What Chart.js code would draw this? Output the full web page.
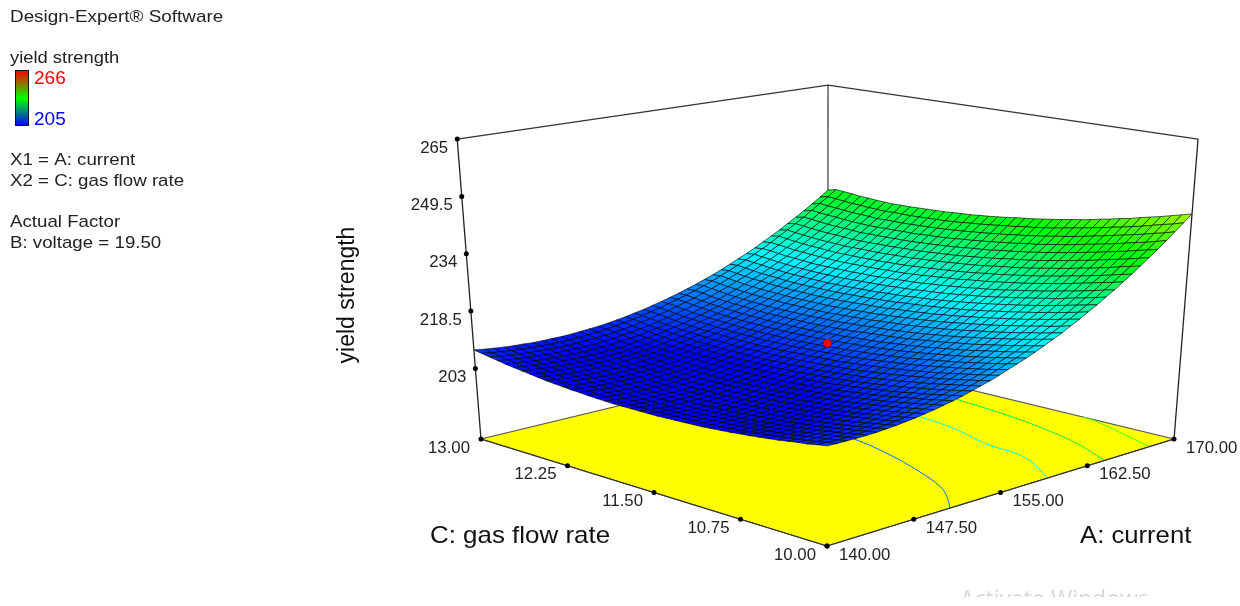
<!DOCTYPE html>
<html>
<head>
<meta charset="utf-8">
<title>yield strength</title>
<script src="https://cdn.jsdelivr.net/npm/chart.js@4"></script>
<style>
  html, body { margin: 0; padding: 0; background: #fff; }
  canvas { display: block; }
</style>
</head>
<body>
<canvas id="surfaceChart" width="1240" height="606"></canvas>
<script>
// values
const currentTicks = [140, 147.5, 155, 162.5, 170];
const gasTicks = [10, 10.75, 11.5, 12.25, 13];
const strengthTicks = [203, 218.5, 234, 249.5, 265];
const currentTickLabels = ['140.00', '147.50', '155.00', '162.50', '170.00'];
const gasTickLabels = ['10.00', '10.75', '11.50', '12.25', '13.00'];
const strengthTickLabels = ['203', '218.5', '234', '249.5', '265'];

const currentNodes = [140, 140.75, 141.5, 142.25, 143, 143.75, 144.5, 145.25, 146, 146.75, 147.5, 148.25, 149, 149.75, 150.5, 151.25, 152, 152.75, 153.5, 154.25, 155, 155.75, 156.5, 157.25, 158, 158.75, 159.5, 160.25, 161, 161.75, 162.5, 163.25, 164, 164.75, 165.5, 166.25, 167, 167.75, 168.5, 169.25, 170];
const gasNodes = [10, 10.075, 10.15, 10.225, 10.3, 10.375, 10.45, 10.525, 10.6, 10.675, 10.75, 10.825, 10.9, 10.975, 11.05, 11.125, 11.2, 11.275, 11.35, 11.425, 11.5, 11.575, 11.65, 11.725, 11.8, 11.875, 11.95, 12.025, 12.1, 12.175, 12.25, 12.325, 12.4, 12.475, 12.55, 12.625, 12.7, 12.775, 12.85, 12.925, 13];
// one row per gas flow rate, one column per current
const yieldGrid = [
  [208.3,208.2,208.2,208.2,208.2,208.3,208.5,208.7,209.0,209.3,209.7,210.1,210.6,211.1,211.7,212.4,213.1,213.8,214.6,215.5,216.4,217.3,218.3,219.4,220.5,221.6,222.9,224.1,225.5,226.8,228.3,229.7,231.3,232.8,234.5,236.2,237.9,239.7,241.6,243.5,245.4],
  [207.9,207.8,207.7,207.7,207.8,207.9,208.0,208.2,208.5,208.8,209.2,209.6,210.1,210.6,211.2,211.8,212.5,213.2,214.0,214.9,215.8,216.7,217.7,218.7,219.9,221.0,222.2,223.5,224.8,226.2,227.6,229.1,230.6,232.2,233.8,235.5,237.2,239.0,240.8,242.7,244.7],
  [207.4,207.3,207.3,207.3,207.3,207.4,207.6,207.8,208.0,208.3,208.7,209.1,209.6,210.1,210.7,211.3,212.0,212.7,213.5,214.3,215.2,216.2,217.1,218.2,219.3,220.4,221.6,222.9,224.2,225.6,227.0,228.4,230.0,231.5,233.2,234.8,236.6,238.3,240.2,242.1,244.0],
  [207.1,206.9,206.9,206.9,206.9,207.0,207.1,207.3,207.6,207.9,208.2,208.6,209.1,209.6,210.2,210.8,211.5,212.2,213.0,213.8,214.7,215.6,216.6,217.6,218.7,219.9,221.1,222.3,223.6,225.0,226.4,227.8,229.4,230.9,232.5,234.2,235.9,237.7,239.5,241.4,243.3],
  [206.7,206.5,206.5,206.5,206.5,206.6,206.7,206.9,207.2,207.5,207.8,208.2,208.7,209.2,209.7,210.3,211.0,211.7,212.5,213.3,214.2,215.1,216.1,217.1,218.2,219.3,220.5,221.8,223.1,224.4,225.8,227.2,228.8,230.3,231.9,233.6,235.3,237.1,238.9,240.7,242.7],
  [206.3,206.2,206.1,206.1,206.1,206.2,206.3,206.5,206.8,207.0,207.4,207.8,208.2,208.7,209.3,209.9,210.5,211.2,212.0,212.8,213.7,214.6,215.6,216.6,217.7,218.8,220.0,221.2,222.5,223.8,225.1,226.7,228.2,229.7,231.3,233.0,234.7,236.4,238.3,240.1,242.1],
  [206.0,205.9,205.8,205.7,205.8,205.8,206.0,206.1,206.4,206.6,207.0,207.4,207.8,208.3,208.8,209.4,210.1,210.8,211.5,212.4,213.2,214.1,215.1,216.1,217.2,218.3,219.5,220.7,222.0,223.3,224.7,226.1,227.6,229.2,230.8,232.4,234.1,235.9,237.7,239.5,241.4],
  [205.7,205.5,205.5,205.4,205.4,205.5,205.6,205.8,206.0,206.3,206.6,207.0,207.4,207.9,208.4,209.0,209.7,210.4,211.1,211.9,212.8,213.7,214.6,215.6,216.7,217.8,219.0,220.2,221.5,222.8,224.2,225.6,227.1,228.6,230.2,231.9,233.6,235.3,237.1,239.0,240.9],
  [205.4,205.3,205.2,205.1,205.1,205.2,205.3,205.5,205.7,205.9,206.3,206.6,207.1,207.5,208.1,208.6,209.3,210.0,210.7,211.5,212.4,213.3,214.2,215.2,216.3,217.4,218.5,219.8,221.0,222.3,223.7,225.1,226.6,228.1,229.7,231.3,233.0,234.8,236.6,238.4,240.3],
  [205.2,205.0,204.9,204.9,204.8,204.9,205.0,205.2,205.4,205.6,205.9,206.3,206.7,207.2,207.7,208.3,208.9,209.6,210.3,211.1,212.0,212.9,213.8,214.8,215.8,217.0,218.1,219.3,220.6,221.9,223.2,224.6,226.1,227.6,229.2,230.8,232.5,234.2,236.0,237.9,239.8],
  [204.9,204.7,204.7,204.6,204.6,204.6,204.7,204.9,205.1,205.3,205.6,206.0,206.4,206.9,207.4,207.9,208.6,209.2,210.0,210.7,211.6,212.5,213.4,214.4,215.4,216.5,217.7,218.9,220.1,221.4,222.8,224.2,225.6,227.1,228.7,230.3,232.0,233.7,235.5,237.4,239.2],
  [204.7,204.5,204.5,204.4,204.3,204.4,204.5,204.6,204.8,205.0,205.3,205.7,206.1,206.5,207.1,207.6,208.2,208.9,209.6,210.4,211.2,212.1,213.0,214.0,215.0,216.1,217.3,218.5,219.7,221.0,222.3,223.7,225.2,226.7,228.2,229.8,231.5,233.2,235.0,236.9,238.7],
  [204.5,204.3,204.2,204.1,204.1,204.2,204.2,204.4,204.5,204.8,205.1,205.4,205.8,206.2,206.8,207.3,207.9,208.6,209.3,210.1,210.9,211.8,212.7,213.7,214.7,215.7,216.9,218.1,219.3,220.6,221.9,223.3,224.8,226.3,227.8,229.4,231.1,232.8,234.6,236.4,238.3],
  [204.3,204.1,204.1,204.0,203.9,204.0,204.0,204.2,204.3,204.6,204.8,205.1,205.5,206.0,206.5,207.0,207.7,208.3,209.0,209.8,210.6,211.4,212.3,213.3,214.3,215.4,216.5,217.7,218.9,220.2,221.5,222.9,224.4,225.9,227.4,229.0,230.6,232.3,234.1,235.9,237.8],
  [204.2,204.0,203.9,203.8,203.7,203.8,203.9,204.0,204.1,204.3,204.6,204.9,205.3,205.7,206.2,206.8,207.4,208.0,208.7,209.5,210.3,211.2,212.1,213.0,214.0,215.1,216.2,217.4,218.6,219.9,221.2,222.6,224.0,225.5,227.1,228.7,230.3,232.0,233.7,235.5,237.4],
  [204.1,203.8,203.7,203.6,203.6,203.6,203.6,203.8,203.9,204.2,204.4,204.7,205.1,205.5,206.0,206.6,207.1,207.8,208.5,209.2,210.0,210.9,211.8,212.7,213.7,214.8,215.9,217.0,218.3,219.5,220.8,222.2,223.7,225.2,226.7,228.3,229.9,231.6,233.3,235.1,237.0],
  [204.0,203.8,203.6,203.5,203.4,203.5,203.5,203.7,203.8,204.0,204.3,204.5,204.9,205.3,205.8,206.4,206.9,207.6,208.3,209.0,209.8,210.6,211.5,212.5,213.5,214.5,215.6,216.8,218.0,219.2,220.5,221.9,223.4,224.8,226.3,227.9,229.6,231.2,233.0,234.8,236.6],
  [203.9,203.7,203.5,203.4,203.3,203.4,203.4,203.5,203.6,203.8,204.1,204.4,204.7,205.2,205.6,206.2,206.7,207.4,208.0,208.8,209.6,210.4,211.3,212.3,213.2,214.3,215.4,216.5,217.7,218.9,220.2,221.6,223.0,224.5,226.0,227.6,229.2,230.9,232.6,234.4,236.3],
  [203.8,203.6,203.4,203.3,203.2,203.2,203.3,203.4,203.5,203.7,204.0,204.3,204.6,205.0,205.5,206.0,206.6,207.2,207.9,208.7,209.4,210.3,211.1,212.1,213.0,214.1,215.1,216.3,217.5,218.7,220.0,221.3,222.8,224.2,225.7,227.3,228.9,230.6,232.3,234.1,236.0],
  [203.8,203.5,203.4,203.2,203.1,203.1,203.2,203.3,203.4,203.6,203.9,204.2,204.5,204.9,205.4,205.9,206.5,207.1,207.8,208.5,209.3,210.1,211.0,211.9,212.9,213.9,214.9,216.1,217.3,218.5,219.8,221.1,222.5,224.0,225.5,227.0,228.7,230.3,232.0,233.8,235.6],
  [203.8,203.5,203.3,203.2,203.1,203.1,203.1,203.2,203.3,203.5,203.8,204.1,204.4,204.8,205.2,205.8,206.3,206.9,207.6,208.3,209.0,209.9,210.7,211.6,212.6,213.6,214.7,215.8,217.0,218.2,219.5,220.8,222.3,223.7,225.2,226.7,228.4,230.0,231.7,233.5,235.3],
  [203.8,203.5,203.3,203.2,203.1,203.1,203.1,203.2,203.3,203.5,203.7,204.0,204.3,204.7,205.1,205.6,206.2,206.8,207.5,208.2,208.9,209.7,210.6,211.5,212.5,213.5,214.5,215.6,216.8,218.0,219.3,220.6,222.0,223.5,225.0,226.5,228.1,229.8,231.5,233.2,235.0],
  [203.8,203.5,203.3,203.1,203.1,203.1,203.1,203.1,203.2,203.4,203.7,204.0,204.3,204.6,205.1,205.6,206.1,206.7,207.4,208.1,208.8,209.6,210.4,211.3,212.3,213.3,214.4,215.5,216.7,217.9,219.2,220.5,221.8,223.3,224.8,226.3,227.9,229.5,231.2,233.0,234.8],
  [203.8,203.5,203.3,203.1,203.1,203.1,203.0,203.1,203.2,203.4,203.6,203.9,204.2,204.6,205.0,205.5,206.0,206.6,207.3,207.9,208.7,209.5,210.3,211.2,212.1,213.2,214.2,215.4,216.5,217.7,219.0,220.3,221.6,223.1,224.6,226.1,227.7,229.3,231.0,232.7,234.5],
  [203.9,203.6,203.4,203.2,203.2,203.1,203.1,203.2,203.3,203.4,203.6,203.9,204.2,204.6,205.0,205.5,206.0,206.6,207.2,207.9,208.6,209.4,210.2,211.1,212.1,213.1,214.1,215.2,216.4,217.6,218.9,220.2,221.5,222.9,224.4,225.9,227.5,229.1,230.8,232.5,234.4],
  [204.0,203.7,203.5,203.3,203.2,203.2,203.2,203.2,203.3,203.5,203.7,203.9,204.2,204.6,205.0,205.5,206.0,206.6,207.2,207.9,208.6,209.4,210.2,211.0,212.0,212.9,214.0,215.1,216.3,217.5,218.8,220.0,221.4,222.8,224.3,225.8,227.4,229.0,230.6,232.3,234.2],
  [204.1,203.8,203.6,203.4,203.3,203.3,203.2,203.3,203.4,203.5,203.7,204.0,204.2,204.6,205.0,205.5,206.0,206.5,207.1,207.8,208.6,209.3,210.1,211.0,211.9,212.9,213.9,215.0,216.2,217.4,218.7,219.9,221.3,222.7,224.2,225.7,227.2,228.8,230.5,232.2,234.0],
  [204.3,204.0,203.8,203.6,203.5,203.4,203.4,203.4,203.5,203.6,203.8,204.1,204.3,204.7,205.1,205.5,206.0,206.6,207.2,207.8,208.6,209.3,210.1,211.0,211.9,212.9,213.9,215.0,216.1,217.3,218.6,219.9,221.2,222.6,224.1,225.6,227.1,228.7,230.4,232.1,233.9],
  [204.4,204.1,203.9,203.7,203.6,203.6,203.5,203.5,203.6,203.7,203.9,204.1,204.4,204.8,205.1,205.6,206.1,206.6,207.2,207.9,208.6,209.3,210.1,211.0,211.9,212.9,213.9,214.9,216.1,217.3,218.5,219.8,221.2,222.6,224.0,225.5,227.1,228.7,230.3,232.0,233.8],
  [204.6,204.3,204.1,203.9,203.7,203.7,203.6,203.6,203.7,203.8,204.0,204.2,204.5,204.8,205.2,205.7,206.1,206.7,207.3,207.9,208.6,209.4,210.1,211.0,211.9,212.9,213.9,214.9,216.1,217.2,218.5,219.8,221.1,222.5,224.0,225.5,227.0,228.6,230.2,231.9,233.7],
  [204.8,204.5,204.3,204.1,203.9,203.8,203.8,203.8,203.8,203.9,204.1,204.3,204.6,204.9,205.3,205.8,206.2,206.8,207.4,208.0,208.7,209.4,210.2,211.0,211.9,212.9,213.9,215.0,216.1,217.3,218.5,219.8,221.1,222.5,224.0,225.4,227.0,228.6,230.2,231.9,233.6],
  [205.0,204.7,204.5,204.3,204.1,204.0,204.0,204.0,204.0,204.1,204.3,204.5,204.7,205.1,205.4,205.9,206.3,206.9,207.5,208.1,208.8,209.5,210.3,211.1,212.0,213.0,214.0,215.0,216.1,217.3,218.5,219.8,221.1,222.5,224.0,225.4,227.0,228.5,230.2,231.9,233.6],
  [205.3,205.0,204.7,204.5,204.3,204.2,204.2,204.2,204.2,204.3,204.5,204.7,204.9,205.2,205.6,206.0,206.5,207.0,207.6,208.2,208.9,209.6,210.4,211.3,212.1,213.1,214.1,215.1,216.2,217.4,218.6,219.8,221.2,222.5,223.9,225.4,226.9,228.5,230.1,231.8,233.5],
  [205.6,205.2,205.0,204.8,204.6,204.5,204.4,204.4,204.4,204.5,204.6,204.8,205.1,205.4,205.8,206.2,206.7,207.2,207.7,208.4,209.1,209.8,210.5,211.4,212.2,213.2,214.2,215.2,216.3,217.5,218.7,219.9,221.3,222.6,224.1,225.6,227.1,228.6,230.3,231.9,233.6],
  [205.9,205.5,205.3,205.0,204.8,204.7,204.6,204.6,204.6,204.7,204.8,205.0,205.3,205.6,206.0,206.4,206.9,207.3,207.9,208.6,209.2,209.9,210.7,211.5,212.4,213.3,214.3,215.4,216.5,217.6,218.8,220.1,221.4,222.8,224.2,225.7,227.2,228.7,230.4,232.0,233.7],
  [206.2,205.9,205.6,205.3,205.1,205.0,204.9,204.8,204.8,204.9,205.0,205.2,205.5,205.8,206.2,206.6,207.1,207.6,208.1,208.8,209.4,210.2,210.9,211.7,212.6,213.5,214.5,215.6,216.7,217.8,219.0,220.3,221.6,222.9,224.3,225.8,227.3,228.9,230.5,232.2,233.9],
  [206.5,206.2,205.9,205.6,205.4,205.3,205.2,205.2,205.2,205.2,205.3,205.5,205.8,206.1,206.4,206.9,207.3,207.8,208.4,209.0,209.6,210.4,211.1,211.9,212.8,213.7,214.7,215.7,216.8,218.0,219.2,220.4,221.7,223.1,224.5,226.0,227.5,229.1,230.7,232.3,234.0],
  [206.9,206.5,206.2,206.0,205.8,205.6,205.5,205.5,205.5,205.5,205.6,205.8,206.0,206.4,206.7,207.1,207.5,208.1,208.7,209.3,209.9,210.7,211.4,212.2,213.1,214.0,215.0,216.0,217.1,218.3,219.5,220.7,222.0,223.3,224.7,226.2,227.7,229.3,230.9,232.5,234.3],
  [207.3,206.9,206.6,206.3,206.1,206.0,205.9,205.8,205.8,205.9,206.0,206.2,206.4,206.7,207.0,207.4,207.9,208.4,209.0,209.6,210.3,211.0,211.7,212.6,213.4,214.3,215.3,216.3,217.4,218.5,219.7,221.0,222.3,223.6,225.0,226.5,228.0,229.5,231.1,232.8,234.5],
  [207.7,207.3,207.0,206.7,206.5,206.4,206.2,206.2,206.2,206.2,206.3,206.5,206.8,207.0,207.4,207.8,208.2,208.7,209.3,209.9,210.6,211.3,212.0,212.8,213.7,214.6,215.6,216.6,217.7,218.8,220.0,221.2,222.5,223.9,225.3,226.7,228.2,229.8,231.4,233.0,234.7],
  [208.1,207.7,207.4,207.1,206.9,206.8,206.6,206.6,206.6,206.6,206.7,206.9,207.1,207.3,207.6,208.0,208.4,208.9,209.4,210.0,210.6,211.3,212.0,212.8,213.6,214.5,215.4,216.4,217.5,218.6,219.7,220.9,222.2,223.5,224.8,226.3,227.7,229.2,230.8,232.4,234.1]
];
const designPoint = { current: 155, gas: 11.5, strength: 210 };

const contourLevels = [211.5, 221, 230.5, 240];
const contourCurrent = [
  [149.75, 151.24, 152.42, 153.83, 155.27, 156.14, 156.5],
  [158.15, 160.4, 161.06, 162.26, 162.8, 163.2],
  [163.34, 165.04, 166.19, 166.97, 167.6, 168],
  [167.6, 169.76, 170]
];
const contourGas = [
  [10, 10.16, 10.32, 10.62, 11.02, 11.38, 11.8],
  [10, 10.36, 10.74, 11.12, 11.46, 11.8],
  [10, 10.36, 10.73, 11.1, 11.58, 11.9],
  [10, 10.59, 10.72]
];

const colourStops = ['#0000ff', '#00ffff', '#00ff00', '#ffff00', '#ff0000'];
const legendMin = 205;
const legendMax = 266;
const floorValue = 182.4;
const tickFloorValue = 183.9;
const FONT = '"Liberation Sans", Arial, sans-serif';

// perspective box: A and C run along the floor, strength goes up
function project(current, gas, strength) {
  const u = (current - 140) / 30;
  const v = (gas - 10) / 3;
  const t = (strength - floorValue) / (265 - floorValue);
  const w = 1 + 0.14 * (u + v) - 0.0735 * t;
  return {
    x: (827 + 511.4 * u - 278.7 * v - 60.7 * t) / w,
    y: (546 - 45.5 * (u + v) - 352.2 * t) / w
  };
}

function mix(a, b, f) {
  return { x: a.x + (b.x - a.x) * f, y: a.y + (b.y - a.y) * f };
}

function colourFor(value) {
  const pos = Math.max(0, Math.min(0.9999, (value - legendMin) / (legendMax - legendMin))) * 4;
  const k = Math.floor(pos);
  const f = pos - k;
  const hex = c => [1, 3, 5].map(n => parseInt(c.substr(n, 2), 16));
  const a = hex(colourStops[k]);
  const b = hex(colourStops[k + 1]);
  return `rgb(${a.map((c, n) => Math.round(c + (b[n] - c) * f)).join(',')})`;
}

const near = project(140, 10, floorValue);
const left = project(140, 13, floorValue);
const right = project(170, 10, floorValue);
const back = project(170, 13, floorValue);
const leftTop = project(140, 13, 265);
const rightTop = project(170, 10, 265);
const backTop = project(170, 13, 265);

// axis ticks are evenly spaced on screen between the box corners
const strengthPoints = strengthTicks.map(z => mix(left, leftTop, (z - tickFloorValue) / (265 - tickFloorValue)));
const gasPoints = gasTicks.map(c => mix(near, left, (c - 10) / 3));
const currentPoints = currentTicks.map(a => mix(near, right, (a - 140) / 30));

function line(points, color, width) {
  return { data: points, showLine: true, borderColor: color, borderWidth: width, pointRadius: 0, tension: 0 };
}

const painted = [];
painted.push({ ...line([near, right, back, left, near], '#555', 1.2), fill: 'shape', backgroundColor: '#ffff00' });
contourLevels.forEach((level, n) => {
  const pts = contourCurrent[n].map((a, k) => project(a, contourGas[n][k], floorValue));
  painted.push({ ...line(pts, colourFor(level), 1), tension: 0.4 });
});
painted.push(line([back, backTop], '#333', 1.2));
painted.push(line([leftTop, backTop, rightTop], '#333', 1.2));

// far cells first so the near ones cover them
for (let r = gasNodes.length - 2; r >= 0; r--) {
  for (let c = currentNodes.length - 2; c >= 0; c--) {
    const corners = [[r, c], [r, c + 1], [r + 1, c + 1], [r + 1, c], [r, c]];
    const pts = corners.map(([i, j]) => project(currentNodes[j], gasNodes[i], yieldGrid[i][j]));
    const mean = (yieldGrid[r][c] + yieldGrid[r][c + 1] + yieldGrid[r + 1][c + 1] + yieldGrid[r + 1][c]) / 4;
    painted.push({ ...line(pts, 'rgba(0,0,0,0.8)', 0.8), fill: 'shape', backgroundColor: colourFor(mean) });
  }
}

painted.push(line([left, leftTop], '#222', 1.3));
painted.push(line([right, rightTop], '#222', 1.3));
painted.push(line([near, left], '#333', 1.2));
painted.push(line([near, right], '#333', 1.2));
painted.push({
  data: [...strengthPoints, ...gasPoints, ...currentPoints],
  pointRadius: 2.5, pointBackgroundColor: '#000', pointBorderWidth: 0, showLine: false
});
painted.push({
  data: [project(designPoint.current, designPoint.gas, designPoint.strength)],
  pointRadius: 4, pointBackgroundColor: '#ff0000', pointBorderColor: '#c00000', pointBorderWidth: 1, showLine: false
});

const textPlugin = {
  id: 'textPlugin',
  afterDraw(chart) {
    const ctx = chart.ctx;
    const sx = chart.scales.x;
    const sy = chart.scales.y;
    // the original lettering is a little wider than Liberation Sans
    const put = (text, x, y, font, color, align, stretch) => {
      ctx.save();
      ctx.translate(x, y);
      ctx.scale(stretch || 1, 1);
      ctx.font = font;
      ctx.fillStyle = color;
      ctx.textAlign = align || 'left';
      ctx.textBaseline = 'middle';
      ctx.fillText(text, 0, 0);
      ctx.restore();
    };
    const tickFont = `16.8px ${FONT}`;
    strengthPoints.forEach((p, n) => put(strengthTickLabels[n], sx.getPixelForValue(p.x) - 9, sy.getPixelForValue(p.y) + 9, tickFont, '#222', 'right'));
    gasPoints.forEach((p, n) => put(gasTickLabels[n], sx.getPixelForValue(p.x) - 11, sy.getPixelForValue(p.y) + 9, tickFont, '#222', 'right'));
    currentPoints.forEach((p, n) => put(currentTickLabels[n], sx.getPixelForValue(p.x) + 12, sy.getPixelForValue(p.y) + 9, tickFont, '#222', 'left'));

    const axisFont = `24px ${FONT}`;
    put('C: gas flow rate', 430, 536.5, axisFont, '#111', 'left', 1.08);
    put('A: current', 1080, 536.5, axisFont, '#111', 'left', 1.07);
    ctx.save();
    ctx.translate(347.5, 295);
    ctx.rotate(-Math.PI / 2);
    put('yield strength', 0, 0, `23px ${FONT}`, '#111', 'center');
    ctx.restore();

    const sideFont = `17px ${FONT}`;
    put('Design-Expert® Software', 10, 17, sideFont, '#222', 'left', 1.11);
    put('yield strength', 10, 58.5, sideFont, '#222', 'left', 1.08);
    put('X1 = A: current', 10, 160.5, sideFont, '#222', 'left', 1.1);
    put('X2 = C: gas flow rate', 10, 181.5, sideFont, '#222', 'left', 1.1);
    put('Actual Factor', 10, 222.5, sideFont, '#222', 'left', 1.1);
    put('B: voltage = 19.50', 10, 243.5, sideFont, '#222', 'left', 1.1);
    put(String(legendMax), 34, 79, `19px ${FONT}`, '#ff0000');
    put(String(legendMin), 34, 120, `19px ${FONT}`, '#0000ff');

    const bar = ctx.createLinearGradient(0, 71, 0, 126);
    bar.addColorStop(0, '#ff0000');
    bar.addColorStop(0.5, '#00ff00');
    bar.addColorStop(1, '#0000ff');
    ctx.save();
    ctx.fillStyle = bar;
    ctx.fillRect(15.5, 70.5, 13, 55);
    ctx.strokeStyle = '#111';
    ctx.lineWidth = 1;
    ctx.strokeRect(15.5, 70.5, 13, 55);
    ctx.beginPath();
    ctx.rect(950, 580, 210, 17);
    ctx.clip();
    ctx.font = '23px "Open Sans", sans-serif';
    ctx.fillStyle = '#d8d8d8';
    ctx.textAlign = 'left';
    ctx.textBaseline = 'alphabetic';
    ctx.fillText('Activate Windows', 960, 607);
    ctx.restore();
  }
};

new Chart(document.getElementById('surfaceChart').getContext('2d'), {
  type: 'scatter',
  data: { datasets: painted.reverse() },
  options: {
    responsive: false,
    animation: false,
    events: [],
    layout: { padding: 0, autoPadding: false },
    plugins: { legend: { display: false }, tooltip: { enabled: false } },
    scales: {
      x: { type: 'linear', min: 0, max: 1240, display: false },
      y: { type: 'linear', min: 0, max: 606, reverse: true, display: false }
    }
  },
  plugins: [textPlugin]
});
</script>
</body>
</html>
